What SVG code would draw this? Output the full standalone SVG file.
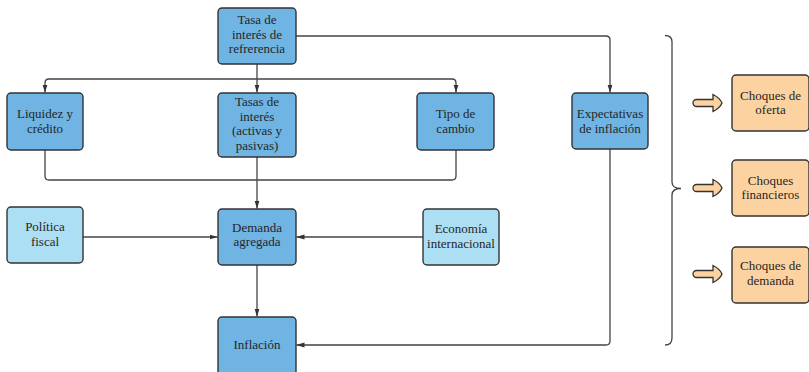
<svg xmlns="http://www.w3.org/2000/svg" width="809" height="372" viewBox="0 0 809 372">
<style>
.box{stroke:#333;stroke-width:1.4}
.main{fill:#6fb4e3}
.light{fill:#addff4}
.orange{fill:#fcd3a0}
.t{font-family:'Liberation Serif',serif;font-size:13px;fill:#262626;text-anchor:middle}
.conn{fill:none;stroke:#444;stroke-width:1.3}
.barrow{fill:#fcd3a0;stroke:#333;stroke-width:1.3}
</style>
<defs>
<marker id="ah" markerWidth="8" markerHeight="8" viewBox="0 0 8 8" refX="8" refY="4" orient="auto" markerUnits="userSpaceOnUse">
<path d="M0,1.5 L8,4 L0,6.5 Z" fill="#333"/>
</marker>
</defs>
<rect width="809" height="372" fill="#fff"/>
<g id="connectors">
<path class="conn" d="M257,64 L257,92.5" marker-end="url(#ah)"/>
<path class="conn" d="M49,79 L452,79 Q456,79 456,83 L456,92.5" marker-end="url(#ah)"/>
<path class="conn" d="M49,79 Q45,79 45,83 L45,92.5" marker-end="url(#ah)"/>
<path class="conn" d="M296,36 L606,36 Q610,36 610,40 L610,92.5" marker-end="url(#ah)"/>
<path class="conn" d="M45,150 L45,176 Q45,180 49,180 L452,180 Q456,180 456,176 L456,150"/>
<path class="conn" d="M257,157 L257,208.5" marker-end="url(#ah)"/>
<path class="conn" d="M83,237 L217.5,237" marker-end="url(#ah)"/>
<path class="conn" d="M423,237 L296.5,237" marker-end="url(#ah)"/>
<path class="conn" d="M257,265 L257,316.5" marker-end="url(#ah)"/>
<path class="conn" d="M610,149 L610,341 Q610,345 606,345 L296.5,345" marker-end="url(#ah)"/>
<path class="conn" d="M665,35.5 Q672,35.5 672,42 L672,182 Q672,188.5 681,188.5 Q672,188.5 672,195 L672,338 Q672,345 665,345"/>
</g>
<g font-family="Liberation Serif, serif">
<g id="n-ref"><rect class="box main" x="218" y="8" width="78" height="56" rx="4"/><text class="t" x="257" y="24">Tasa de</text><text class="t" x="257" y="38.5">interés de</text><text class="t" x="257" y="53">refrerencia</text></g>
<g id="n-liq"><rect class="box main" x="7" y="93" width="76" height="57" rx="4"/><text class="t" x="45" y="118">Liquidez y</text><text class="t" x="45" y="132.5">crédito</text></g>
<g id="n-tasas"><rect class="box main" x="218" y="93" width="78" height="64" rx="4"/><text class="t" x="257" y="106">Tasas de</text><text class="t" x="257" y="120.5">interés</text><text class="t" x="257" y="135">(activas y</text><text class="t" x="257" y="149.5">pasivas)</text></g>
<g id="n-tipo"><rect class="box main" x="417" y="93" width="77" height="57" rx="4"/><text class="t" x="455.5" y="118">Tipo de</text><text class="t" x="455.5" y="132.5">cambio</text></g>
<g id="n-expect"><rect class="box main" x="572" y="93" width="76" height="56" rx="4"/><text class="t" x="610" y="118">Expectativas</text><text class="t" x="610" y="132.5">de inflación</text></g>
<g id="n-fiscal"><rect class="box light" x="7" y="207" width="76" height="56" rx="4"/><text class="t" x="45" y="231">Política</text><text class="t" x="45" y="245.5">fiscal</text></g>
<g id="n-demanda"><rect class="box main" x="218" y="209" width="78" height="56" rx="4"/><text class="t" x="257" y="231.5">Demanda</text><text class="t" x="257" y="246">agregada</text></g>
<g id="n-econ"><rect class="box light" x="423" y="209" width="76" height="56" rx="4"/><text class="t" x="461" y="233">Economía</text><text class="t" x="461" y="247.5">internacional</text></g>
<g id="n-inflacion"><rect class="box main" x="218" y="317" width="78" height="58" rx="4"/><text class="t" x="257" y="348.5">Inflación</text></g>
<g id="n-oferta"><path class="barrow" d="M713,99.5 L696.5,99.5 A3.5,3.5 0 0 0 696.5,106.5 L713,106.5 L713,111.5 Q720,108 722,103 Q720,98 713,94.5 Z"/><rect class="box orange" x="732" y="75" width="77" height="56" rx="4"/><text class="t" x="770.5" y="99.5">Choques de</text><text class="t" x="770.5" y="114">oferta</text></g>
<g id="n-financieros"><path class="barrow" d="M713,184.5 L696.5,184.5 A3.5,3.5 0 0 0 696.5,191.5 L713,191.5 L713,196.5 Q720,193 722,188 Q720,183 713,179.5 Z"/><rect class="box orange" x="732" y="160" width="77" height="56" rx="4"/><text class="t" x="770.5" y="184.5">Choques</text><text class="t" x="770.5" y="199">financieros</text></g>
<g id="n-demanda-shock"><path class="barrow" d="M713,270.5 L696.5,270.5 A3.5,3.5 0 0 0 696.5,277.5 L713,277.5 L713,282.5 Q720,279 722,274 Q720,269 713,265.5 Z"/><rect class="box orange" x="732" y="247" width="77" height="56" rx="4"/><text class="t" x="770.5" y="270.25">Choques de</text><text class="t" x="770.5" y="284.75">demanda</text></g>
</g>
</svg>
